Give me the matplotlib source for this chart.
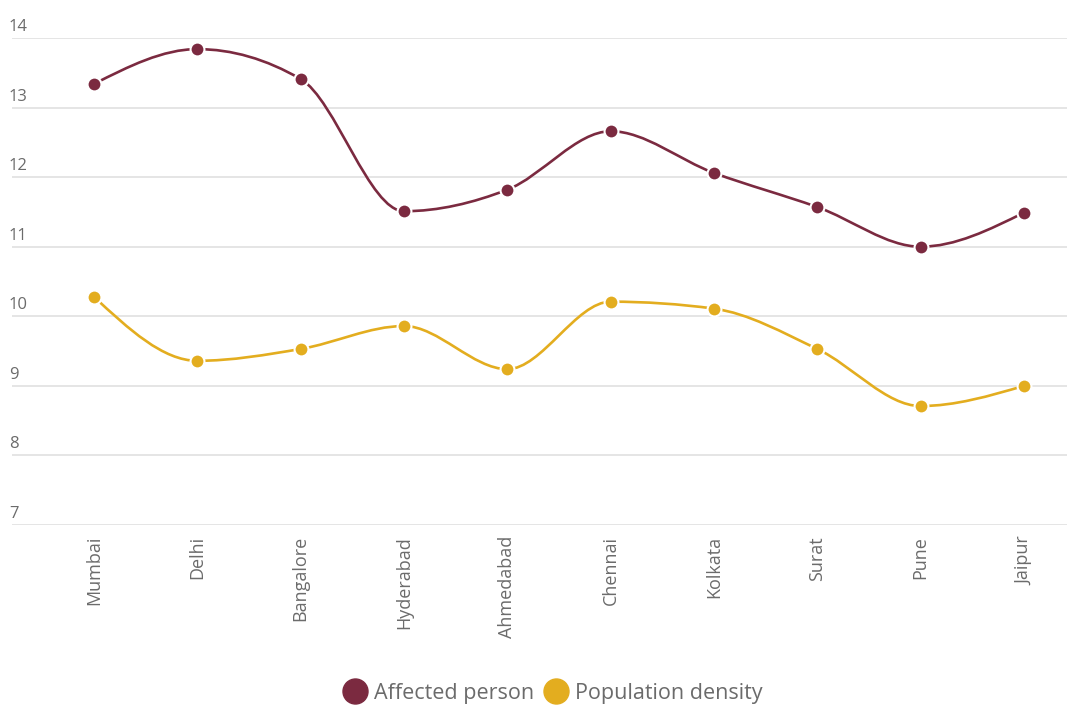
import matplotlib
matplotlib.use("Agg")
import matplotlib.pyplot as plt
import numpy as np
from matplotlib.path import Path
from matplotlib.patches import PathPatch
from matplotlib.lines import Line2D
import matplotlib.transforms as mtransforms

cities = ["Mumbai", "Delhi", "Bangalore", "Hyderabad", "Ahmedabad",
          "Chennai", "Kolkata", "Surat", "Pune", "Jaipur"]
affected = [13.34, 13.84, 13.41, 11.51, 11.82, 12.66, 12.06, 11.57, 11.0, 11.49]
density = [10.28, 9.36, 9.53, 9.86, 9.24, 10.21, 10.11, 9.53, 8.71, 9.0]
yticks = [7, 8, 9, 10, 11, 12, 13, 14]

C_AFF = "#7b2a40"
C_DEN = "#e3ad1f"
GRID = "#e3e3e3"
TXT = "#6b6b6b"
FONT = "Open Sans"

W, H = 1067, 709
fig = plt.figure(figsize=(W / 100, H / 100), dpi=100)
ax_l, ax_r, ax_b, ax_t = 12, 1067, 709 - 525, 709 - 38
ax = fig.add_axes([ax_l / W, ax_b / H, (ax_r - ax_l) / W, (ax_t - ax_b) / H])

x = np.arange(len(cities))
ax.set_xlim(-(94 - 12) / 103.33, 9 + (1067 - 1024) / 103.33)
ax.set_ylim(7, 14)
for s in ax.spines.values():
    s.set_visible(False)
ax.set_yticks([])
ax.set_xticks(x)
ax.set_xticklabels(cities, rotation=90, ha="center", va="top",
                   fontsize=13, color=TXT, fontfamily=FONT)
ax.tick_params(axis="x", length=0, pad=8)

trans = mtransforms.blended_transform_factory(fig.transFigure, ax.transData) + \
    mtransforms.ScaledTranslation(0, 3 / 100, fig.dpi_scale_trans)
for v in yticks:
    ax.axhline(v, color=GRID, lw=1.3, zorder=0)
    ax.text(9 / W, v, str(v), transform=trans, ha="left", va="bottom",
            fontsize=12, color=TXT, fontfamily=FONT)


def monotone_path(xs, ys):
    xs = np.asarray(xs, float)
    ys = np.asarray(ys, float)
    n = len(xs)
    h = np.diff(xs)
    d = np.diff(ys) / h
    m = np.zeros(n)
    for i in range(1, n - 1):
        if d[i - 1] * d[i] <= 0:
            m[i] = 0
        else:
            p = (d[i - 1] * h[i] + d[i] * h[i - 1]) / (h[i - 1] + h[i])
            m[i] = (np.sign(d[i - 1]) + np.sign(d[i])) * min(abs(d[i - 1]), abs(d[i]), 0.5 * abs(p))
    m[0] = (3 * d[0] - m[1]) / 2
    m[-1] = (3 * d[-1] - m[-2]) / 2
    verts = [(xs[0], ys[0])]
    codes = [Path.MOVETO]
    for i in range(n - 1):
        dx = h[i] / 3
        verts += [(xs[i] + dx, ys[i] + m[i] * dx),
                  (xs[i + 1] - dx, ys[i + 1] - m[i + 1] * dx),
                  (xs[i + 1], ys[i + 1])]
        codes += [Path.CURVE4] * 3
    return Path(verts, codes)


for vals, col in [(affected, C_AFF), (density, C_DEN)]:
    patch = PathPatch(monotone_path(x, vals), facecolor="none", edgecolor=col,
                      lw=1.9, zorder=3, capstyle="round")
    ax.add_patch(patch)
    ax.plot(x, vals, "o", ms=10, mfc=col, mec="white", mew=1.5, zorder=4,
            clip_on=False, ls="none")

handles = [Line2D([], [], marker="o", ls="none", ms=18, mfc=C_AFF, mec=C_AFF),
           Line2D([], [], marker="o", ls="none", ms=18, mfc=C_DEN, mec=C_DEN)]
leg = fig.legend(handles, ["Affected person", "Population density"],
                 loc="center", bbox_to_anchor=(553 / W, 1 - 693 / H), ncol=2,
                 frameon=False, handletextpad=0.35, columnspacing=0.45,
                 prop={"family": FONT, "size": 15.5}, handlelength=1.1)
for t in leg.get_texts():
    t.set_color(TXT)

fig.savefig("out.png", dpi=100)
